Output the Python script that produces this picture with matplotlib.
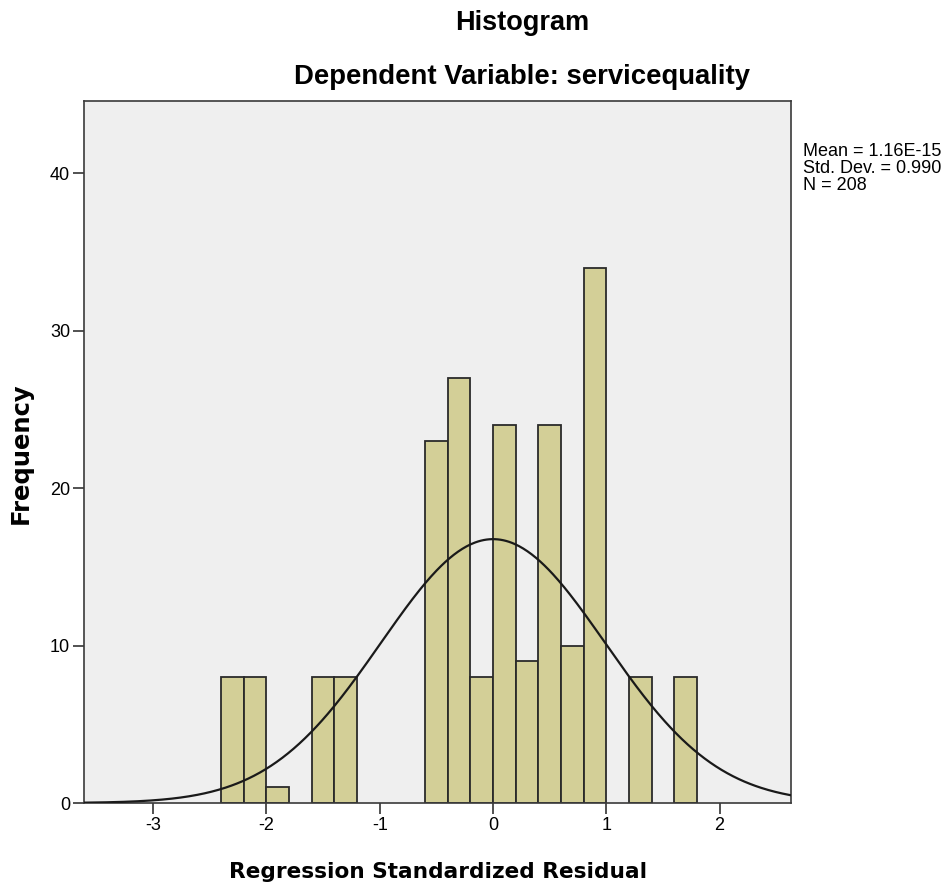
import numpy as np
import matplotlib
matplotlib.use("Agg")
import matplotlib.pyplot as plt

plt.rcParams['font.family'] = ['Liberation Sans', 'DejaVu Sans']

bin_left = [-2.4, -2.2, -2.0, -1.6, -1.4, -0.6, -0.4, -0.2, 0.0, 0.2, 0.4, 0.6, 0.8, 1.2, 1.6]
counts = [8, 8, 1, 8, 8, 23, 27, 8, 24, 9, 24, 10, 34, 8, 8]
bin_width = 0.2
mean = 1.16e-15
std = 0.990
n = 208
xticks = [-3, -2, -1, 0, 1, 2]
yticks = [0, 10, 20, 30, 40]
stats_lines = ['Mean = 1.16E-15', 'Std. Dev. = 0.990', 'N = 208']

fig = plt.figure(figsize=(9.51, 8.92), dpi=100)
ax = fig.add_axes([84/951, 89/892, (791-84)/951, (803-101)/892])
ax.set_facecolor('#EFEFEF')
ax.bar(bin_left, counts, width=bin_width, align='edge', color='#D3CF97',
       edgecolor='#2A2A2A', linewidth=1.3, zorder=2)

xmin, xmax = -3.61, 2.63
xs = np.linspace(xmin, xmax, 500)
pdf = n * bin_width * np.exp(-0.5 * ((xs - mean) / std) ** 2) / (std * np.sqrt(2 * np.pi))
ax.plot(xs, pdf, color='#1A1A1A', linewidth=1.6, zorder=3)

ax.set_xlim(xmin, xmax)
ax.set_ylim(0, 44.6)
ax.set_xticks(xticks)
ax.set_xticklabels([str(t) for t in xticks])
ax.set_yticks(yticks)
ax.set_yticklabels([str(t) for t in yticks])
ax.tick_params(direction='out', length=8, width=1.2, colors='#333333', labelsize=13,
               labelcolor='black', pad=2)
for s in ax.spines.values():
    s.set_color('#3A3A3A')
    s.set_linewidth(1.2)

fig.text(438/951, 1 - 872/892, 'Regression Standardized Residual', ha='center', va='center',
         fontsize=15.6, fontweight='bold', family='DejaVu Sans')
fig.text(21/951, 1 - 453/892, 'Frequency', ha='center', va='center', rotation=90,
         fontsize=17.5, fontweight='bold', family='DejaVu Sans')

fig.text(522/951, 1 - 23/892, 'Histogram', ha='center', va='center', fontsize=19.5, fontweight='bold')
fig.text(522/951, 1 - 77/892, 'Dependent Variable: servicequality', ha='center', va='center',
         fontsize=19.8, fontweight='bold')
for i, line in enumerate(stats_lines):
    fig.text(803/951, 1 - (152 + 16.5 * i)/892, line, ha='left', va='center', fontsize=13)

fig.savefig('out.png', dpi=100)
